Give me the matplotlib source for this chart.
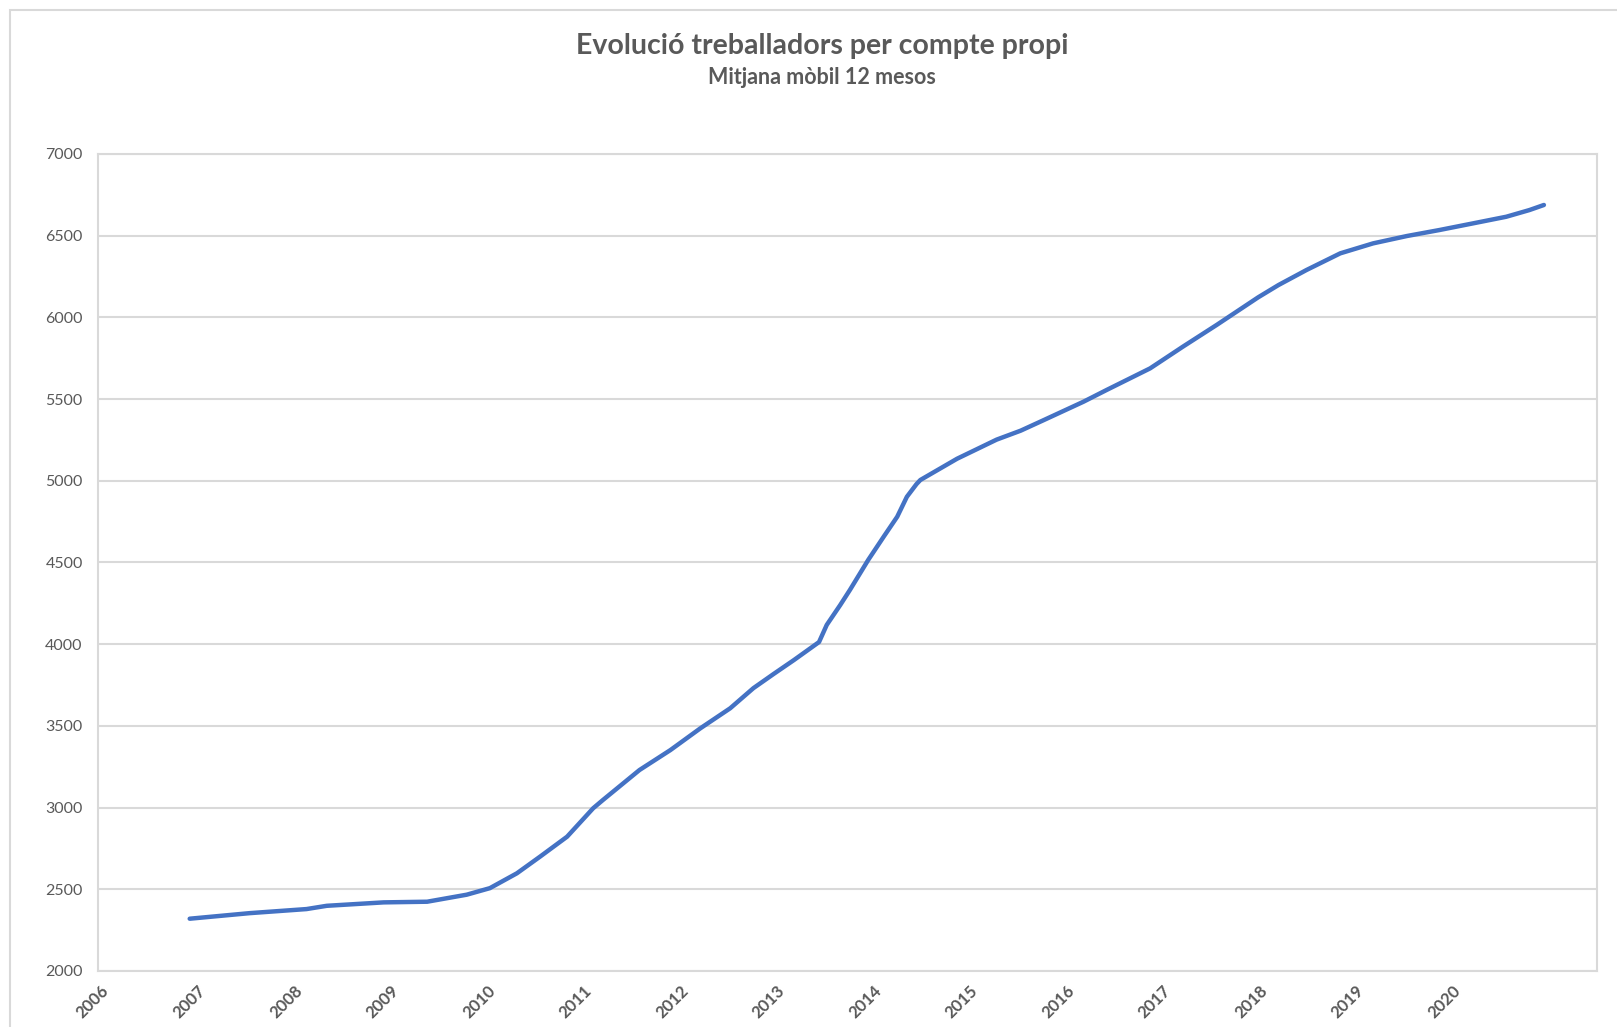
import matplotlib.pyplot as plt
from matplotlib.patches import Rectangle

plt.rcParams['font.family'] = ['Lato', 'DejaVu Sans']

# fractional year and 12-month moving average of self-employed workers
years = [2006.92, 2007.54, 2008.13, 2008.34, 2008.93, 2009.38, 2009.79, 2010.03,
         2010.31, 2010.55, 2010.83, 2011.10, 2011.20, 2011.58, 2011.90, 2012.21,
         2012.52, 2012.76, 2012.97, 2013.18, 2013.44, 2013.52, 2013.66, 2013.76,
         2013.95, 2014.11, 2014.25, 2014.35, 2014.45, 2014.49, 2014.87, 2015.28,
         2015.53, 2015.77, 2016.18, 2016.42, 2016.87, 2017.21, 2017.56, 2017.99,
         2018.20, 2018.49, 2018.84, 2019.18, 2019.53, 2019.87, 2020.22, 2020.56,
         2020.80, 2020.95]
workers = [2320, 2354, 2379, 2399, 2420, 2424, 2467, 2507,
           2598, 2700, 2822, 2996, 3046, 3230, 3352, 3485,
           3608, 3731, 3818, 3903, 4013, 4118, 4240, 4332,
           4516, 4658, 4780, 4902, 4980, 5005, 5135, 5252,
           5307, 5372, 5484, 5556, 5688, 5821, 5954, 6123,
           6198, 6290, 6392, 6453, 6498, 6535, 6576, 6616,
           6657, 6688]
year_labels = list(range(2006, 2021))
y_ticks = list(range(2000, 7001, 500))

fig = plt.figure(figsize=(16.17, 10.27), dpi=100)
# outer chart frame
fig.patches.append(Rectangle((10 / 1617, -0.1), 1.2, 1 - 10 / 1027 + 0.1,
                             transform=fig.transFigure, fill=False,
                             edgecolor='#d9d9d9', linewidth=1.5))

ax = fig.add_axes([98 / 1617, 1 - 971 / 1027, 1499 / 1617, 817 / 1027])
ax.plot(years, workers, color='#4472c4', linewidth=3.2, solid_capstyle='round')

ax.set_xlim(2005.97, 2021.5)
ax.set_ylim(2000, 7000)
ax.set_yticks(y_ticks)
ax.set_yticklabels([str(v) for v in y_ticks], color='#595959', fontsize=11.5)
ax.set_xticks(year_labels)
ax.set_xticklabels([str(y) for y in year_labels], rotation=45, ha='right',
                   va='top', rotation_mode='anchor', color='#595959',
                   fontsize=12, fontweight='bold')
ax.tick_params(axis='both', length=0)
ax.tick_params(axis='y', pad=11)
ax.tick_params(axis='x', pad=8)
ax.grid(axis='y', color='#d9d9d9', linewidth=1.5)
ax.set_axisbelow(True)
for s in ax.spines.values():
    s.set_color('#d9d9d9')
    s.set_linewidth(1.5)

fig.text(822 / 1617, 1 - 46 / 1027, 'Evolució treballadors per compte propi',
         ha='center', va='center', fontsize=20.5, fontweight='bold', color='#595959')
fig.text(822 / 1617, 1 - 77 / 1027, 'Mitjana mòbil 12 mesos',
         ha='center', va='center', fontsize=15.5, fontweight='bold', color='#595959')

fig.savefig('out.png', dpi=100)
